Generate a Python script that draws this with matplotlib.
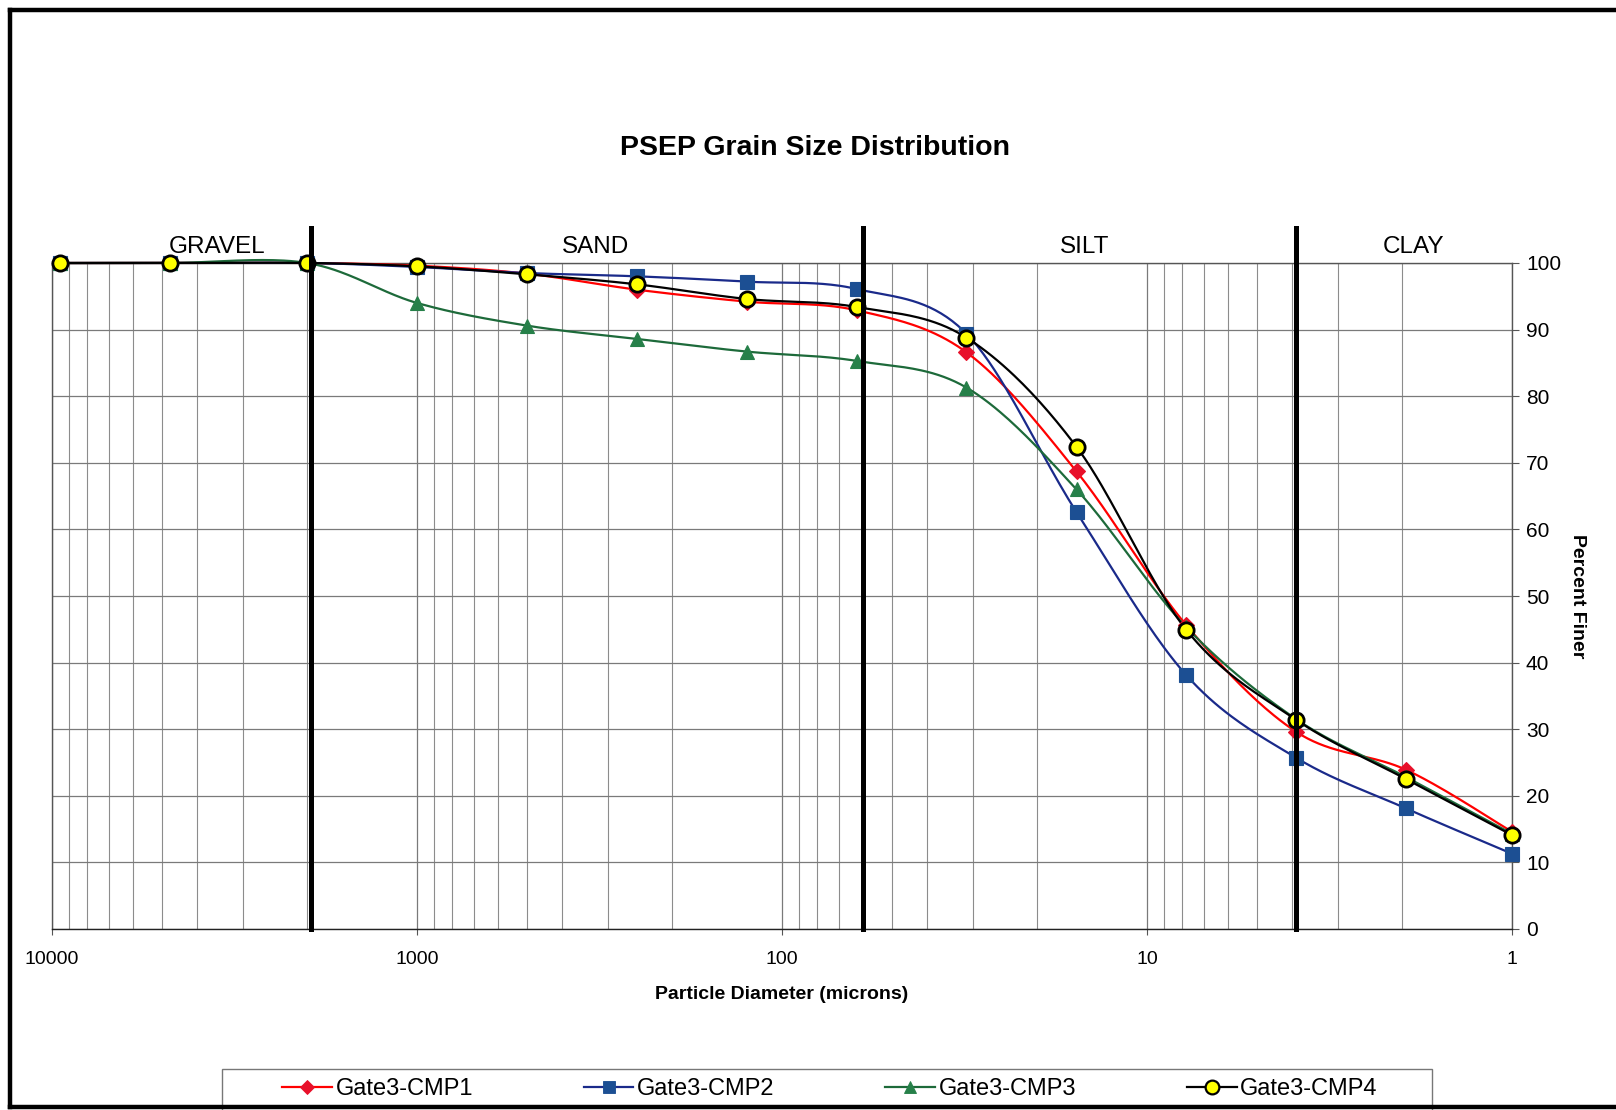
import numpy as np
import matplotlib.pyplot as plt
from matplotlib.lines import Line2D
from matplotlib.patches import Rectangle
from matplotlib.ticker import LogLocator, FixedLocator, NullFormatter
import matplotlib.transforms as mtransforms

plt.rcParams['font.family'] = ['Liberation Sans', 'DejaVu Sans']

# particle diameter (microns) and percent finer for each sample
diameter = [9500, 4750, 2000, 1000, 500, 250, 125, 62.5, 31.25, 15.6, 7.8, 3.9, 1.95, 1.0]
cmp1 = [100, 100, 100, 99.6, 98.4, 96.0, 94.2, 92.9, 86.6, 68.7, 45.6, 29.6, 23.9, 14.6]
cmp2 = [100, 100, 100, 99.4, 98.5, 98.0, 97.2, 96.1, 89.4, 62.6, 38.1, 25.7, 18.1, 11.3]
cmp3 = [100, 100, 100, 94.0, 90.6, 88.6, 86.7, 85.3, 81.3, 66.0, 45.3, 31.5, 22.8, 14.3]
cmp4 = [100, 100, 100, 99.5, 98.3, 96.8, 94.6, 93.4, 88.8, 72.4, 44.9, 31.4, 22.5, 14.1]

series_names = ["Gate3-CMP1", "Gate3-CMP2", "Gate3-CMP3", "Gate3-CMP4"]

# grain size class boundaries and labels
class_bounds = [1950, 60, 3.9]
class_names = ["GRAVEL", "SAND", "SILT", "CLAY"]
class_label_x = [3530, 324, 14.8, 1.86]

x_ticks = [10000, 1000, 100, 10, 1]
y_ticks = list(range(0, 101, 10))


def smooth_curve(xs, ys, sx=365.0, sy=6.66, n=40):
    """Excel-like smoothed line: Catmull-Rom Bezier in screen-ish space."""
    u = np.log10(np.asarray(xs, float)) * sx
    v = np.asarray(ys, float) * sy
    pts = np.column_stack([u, v])
    out = []
    for i in range(len(pts) - 1):
        p0 = pts[i - 1] if i > 0 else pts[i]
        p1 = pts[i]
        p2 = pts[i + 1]
        p3 = pts[i + 2] if i + 2 < len(pts) else pts[i + 1]
        c1 = p1 + (p2 - p0) / 6.0
        c2 = p2 - (p3 - p1) / 6.0
        t = np.linspace(0, 1, n)[:, None]
        seg = ((1 - t) ** 3) * p1 + 3 * ((1 - t) ** 2) * t * c1 + 3 * (1 - t) * t ** 2 * c2 + t ** 3 * p2
        out.append(seg if i == 0 else seg[1:])
    out = np.vstack(out)
    return 10 ** (out[:, 0] / sx), out[:, 1] / sy


fig = plt.figure(figsize=(16.16, 11.10), dpi=100)
ax = fig.add_axes([52 / 1616, 1 - 929 / 1110, (1512 - 52) / 1616, (929 - 263) / 1110])

ax.set_xscale("log")
ax.set_xlim(10000, 1)
ax.set_ylim(0, 100)

styles = [
    dict(line="#ff0000", marker="D", mfc="#e8102a", mec="#e8102a", ms=8),
    dict(line="#1a2a8a", marker="s", mfc="#1c4f93", mec="#1c4f93", ms=10),
    dict(line="#1d6a3a", marker="^", mfc="#268049", mec="#268049", ms=10),
    dict(line="#000000", marker="o", mfc="#ffff00", mec="#000000", ms=11),
]

handles = []
for vals, name, st in zip([cmp1, cmp2, cmp3, cmp4], series_names, styles):
    sxs, sys_ = smooth_curve(diameter, vals)
    ax.plot(sxs, sys_, color=st["line"], lw=1.6, zorder=3, clip_on=False)
    mew = 2.0 if st["marker"] == "o" else 0.8
    ax.plot(diameter, vals, ls="none", marker=st["marker"], ms=st["ms"], mfc=st["mfc"],
            mec=st["mec"], mew=mew, zorder=4, clip_on=False)
    handles.append(Line2D([0], [0], color=st["line"], lw=1.6, marker=st["marker"],
                          ms=st["ms"] * 0.9, mfc=st["mfc"], mec=st["mec"], mew=mew * 0.8))

# class boundaries, extending above the plot area
trans = mtransforms.blended_transform_factory(ax.transData, ax.transAxes)
for b in class_bounds:
    ax.plot([b, b], [0, 1.052], color="black", lw=3.6, transform=trans, clip_on=False, zorder=5)
for lx, name in zip(class_label_x, class_names):
    ax.text(lx, 1.008, name, transform=trans, ha="center", va="bottom", fontsize=17.5)

# grid
ax.xaxis.set_major_locator(FixedLocator(x_ticks))
ax.xaxis.set_minor_locator(LogLocator(base=10, subs=np.arange(2, 10)))
ax.xaxis.set_minor_formatter(NullFormatter())
ax.set_xticklabels([str(t) for t in x_ticks])
ax.set_yticks(y_ticks)
ax.grid(True, which="major", color="#7a7a7a", lw=0.9)
ax.grid(True, which="minor", axis="x", color="#8c8c8c", lw=0.8)
ax.set_axisbelow(True)

ax.yaxis.tick_right()
ax.yaxis.set_label_position("right")
ax.tick_params(axis="y", which="both", left=False, right=True, length=5, pad=5,
               labelsize=15, color="#555555")
ax.tick_params(axis="x", which="major", length=4, pad=11.5, labelsize=14, color="#555555")
ax.tick_params(axis="x", which="minor", length=0)
for sp in ax.spines.values():
    sp.set_color("#555555")
    sp.set_linewidth(1.0)
ax.spines["bottom"].set_color("#222222")

ax.set_xlabel("Particle Diameter (microns)", fontsize=14, fontweight="bold", labelpad=13)
ax.set_ylabel("Percent Finer", fontsize=14, fontweight="bold", rotation=270, labelpad=18)

fig.text(815 / 1616, 1 - 148 / 1110, "PSEP Grain Size Distribution", ha="center", va="center",
         fontsize=20.5, fontweight="bold")

# legend box, partly cut off by the bottom border
fig.add_artist(Rectangle((222 / 1616, -0.02), (1432 - 222) / 1616, (1110 - 1069) / 1110 + 0.02,
                         transform=fig.transFigure, fill=False, edgecolor="#777777", lw=1.0))
fig.legend(handles, series_names, loc="center", ncol=4,
           bbox_to_anchor=(830 / 1616, 1 - 1089 / 1110),
           fontsize=17, frameon=False, handlelength=2.1, handletextpad=0.15,
           columnspacing=4.7, borderpad=0, borderaxespad=0)

# outer border of the chart area
for xs_, ys_ in [([0.006, 0.006], [0.003, 0.991]), ([0.006, 1.0], [0.991, 0.991]), ([0.006, 1.0], [0.003, 0.003])]:
    fig.add_artist(Line2D(xs_, ys_, color="black", lw=3.2, transform=fig.transFigure))

fig.savefig("out.png", dpi=100)
